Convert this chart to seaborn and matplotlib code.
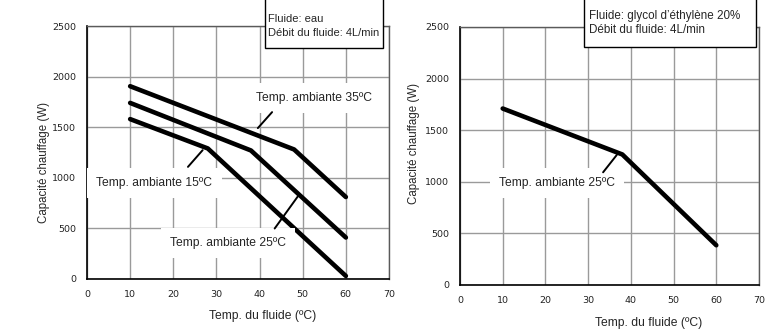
import pandas as pd
import matplotlib.pyplot as plt
import seaborn as sns
from matplotlib.patches import Rectangle

# Heating capacity curves, fluid flow 4 L/min
# water, ambient 15 / 25 / 35 degC
eau_15_temp = [10, 28, 60]
eau_15_cap = [1580, 1290, 30]
eau_25_temp = [10, 38, 60]
eau_25_cap = [1740, 1270, 410]
eau_35_temp = [10, 48, 60]
eau_35_cap = [1905, 1280, 810]
# ethylene glycol 20 %, ambient 25 degC
glycol_25_temp = [10, 38, 60]
glycol_25_cap = [1710, 1265, 385]

x_ticks = [0, 10, 20, 30, 40, 50, 60, 70]
y_ticks = [0, 500, 1000, 1500, 2000, 2500]

sns.set_style("white")
plt.rcParams['font.family'] = ['Liberation Sans', 'DejaVu Sans']

fig = plt.figure(figsize=(7.72, 3.34), dpi=100)
ax1 = fig.add_axes([87 / 772, 1 - 279 / 334, 302 / 772, 253 / 334])
ax2 = fig.add_axes([460 / 772, 1 - 285 / 334, 299 / 772, 258 / 334])


def draw_curve(ax, temps, caps):
    df = pd.DataFrame({"temp": temps, "cap": caps})
    sns.lineplot(data=df, x="temp", y="cap", ax=ax, color="black",
                 linewidth=3.3, sort=False, solid_capstyle="round",
                 solid_joinstyle="round", zorder=3)


def setup_axes(ax):
    ax.set_xlim(0, 70)
    ax.set_ylim(0, 2500)
    ax.set_xticks(x_ticks)
    ax.set_yticks(y_ticks)
    ax.grid(True, color="#9a9a9a", linewidth=1.0)
    ax.set_axisbelow(True)
    for side in ["top", "right"]:
        ax.spines[side].set_color("#5a5a5a")
        ax.spines[side].set_linewidth(1.0)
    for side in ["left", "bottom"]:
        ax.spines[side].set_color("black")
        ax.spines[side].set_linewidth(1.2)
    ax.tick_params(axis="both", direction="out", length=3, width=0.8,
                   labelsize=6.8, pad=5, colors="#222222")
    ax.tick_params(axis="x", pad=5)
    for lab in ax.get_xticklabels() + ax.get_yticklabels():
        lab.set_family("DejaVu Sans")
    ax.set_xlabel("Temp. du fluide (ºC)", fontsize=8.7)
    ax.set_ylabel("Capacité chauffage (W)", fontsize=8.3)


def label(ax, txt, x, y, x0, y0, x1, y1):
    ax.text(x, y, txt, fontsize=8.7, ha="left", va="center", zorder=4,
            bbox=dict(boxstyle="square,pad=0.75", facecolor="white", edgecolor="none"))
    ax.annotate("", xy=(x1, y1), xytext=(x0, y0), zorder=5,
                arrowprops=dict(arrowstyle="-", lw=1.4, color="black",
                                shrinkA=0, shrinkB=0))


# left panel: water
setup_axes(ax1)
draw_curve(ax1, eau_15_temp, eau_15_cap)
draw_curve(ax1, eau_25_temp, eau_25_cap)
draw_curve(ax1, eau_35_temp, eau_35_cap)
label(ax1, "Temp. ambiante 35ºC", 39.1, 1790, 39.6, 1491, 42.9, 1649)
label(ax1, "Temp. ambiante 15ºC", 2.2, 950, 23.4, 1108, 26.8, 1273)
label(ax1, "Temp. ambiante 25ºC", 19.2, 360, 43.5, 499, 48.9, 818)
ax1.yaxis.set_label_coords(-0.123, 0.46)
ax1.xaxis.set_label_coords(0.582, -0.121)

# right panel: glycol
setup_axes(ax2)
draw_curve(ax2, glycol_25_temp, glycol_25_cap)
label(ax2, "Temp. ambiante 25ºC", 9.2, 985, 33.5, 1092, 36.7, 1260)
ax2.yaxis.set_label_coords(-0.135, 0.55)
ax2.xaxis.set_label_coords(0.632, -0.124)

# info boxes at the top
fig.add_artist(Rectangle((265 / 772, 1 - 48 / 334), 118 / 772, 0.2,
                         transform=fig.transFigure, facecolor="white",
                         edgecolor="black", linewidth=1.0, zorder=10))
fig.text(268 / 772, 1 - 19 / 334, "Fluide: eau", fontsize=8, va="center", zorder=11)
fig.text(268 / 772, 1 - 33 / 334, "Débit du fluide: 4L/min", fontsize=8, va="center", zorder=11)

fig.add_artist(Rectangle((584 / 772, 1 - 47 / 334), 172 / 772, 0.2,
                         transform=fig.transFigure, facecolor="white",
                         edgecolor="black", linewidth=1.0, zorder=10))
fig.text(589 / 772, 1 - 16 / 334, "Fluide: glycol d’éthylène 20%", fontsize=8.4, va="center", zorder=11)
fig.text(589 / 772, 1 - 30 / 334, "Débit du fluide: 4L/min", fontsize=8.4, va="center", zorder=11)

fig.savefig("out.png", dpi=100)
